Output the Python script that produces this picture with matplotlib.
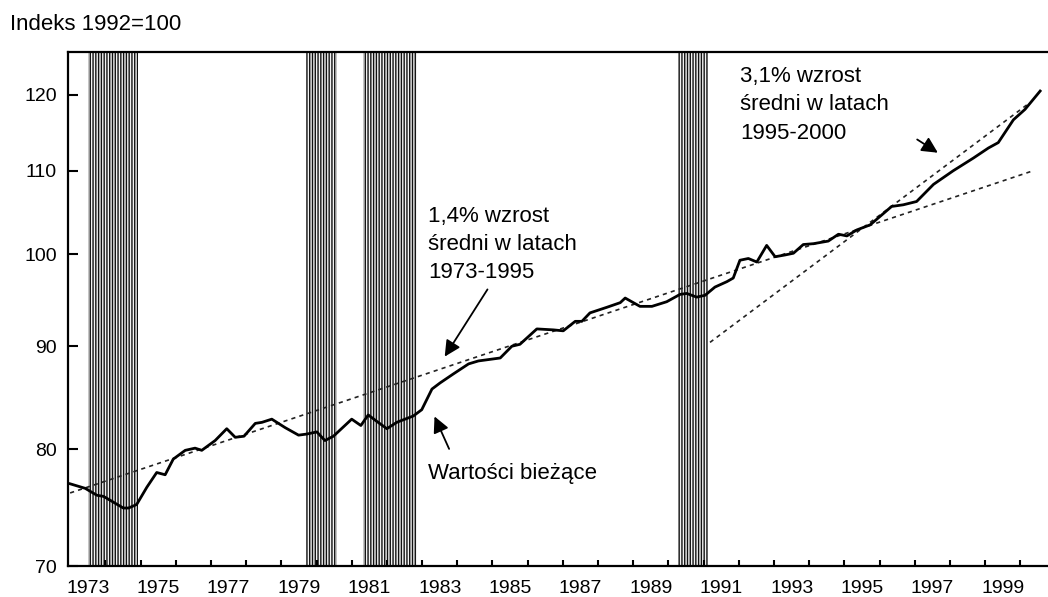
import numpy as np
import matplotlib.pyplot as plt
from matplotlib.ticker import NullLocator, FixedLocator, FixedFormatter

plt.rcParams['font.family'] = ['Liberation Sans', 'DejaVu Sans']
plt.rcParams['hatch.linewidth'] = 1.0

# ---------- data ----------
years = [1973.00, 1973.43, 1973.76, 1973.95, 1974.23, 1974.51, 1974.66, 1974.89,
         1975.18, 1975.46, 1975.70, 1975.93, 1976.27, 1976.55, 1976.74, 1977.12,
         1977.45, 1977.69, 1977.94, 1978.26, 1978.45, 1978.73, 1979.11, 1979.49,
         1979.72, 1980.01, 1980.24, 1980.48, 1981.00, 1981.26, 1981.47, 1981.71,
         1982.00, 1982.28, 1982.75, 1982.99, 1983.28, 1983.51, 1983.89, 1984.32,
         1984.60, 1985.22, 1985.55, 1985.78, 1986.26, 1986.73, 1987.01, 1987.35,
         1987.54, 1987.77, 1988.25, 1988.63, 1988.77, 1989.19, 1989.53, 1989.95,
         1990.33, 1990.52, 1990.80, 1991.04, 1991.32, 1991.66, 1991.84, 1992.03,
         1992.27, 1992.51, 1992.79, 1993.03, 1993.31, 1993.55, 1993.83, 1994.12,
         1994.54, 1994.83, 1995.07, 1995.35, 1995.73, 1996.01, 1996.34, 1996.67,
         1997.05, 1997.53, 1998.09, 1998.66, 1999.09, 1999.37, 1999.80, 2000.13,
         2000.56]
index = [76.9, 76.5, 75.9, 75.8, 75.3, 74.8, 74.8, 75.1,
         76.6, 77.9, 77.7, 79.1, 79.9, 80.1, 79.9, 80.8,
         81.9, 81.1, 81.2, 82.4, 82.5, 82.8, 82.0, 81.3,
         81.4, 81.6, 80.8, 81.2, 82.8, 82.2, 83.2, 82.6,
         81.9, 82.5, 83.1, 83.7, 85.7, 86.3, 87.2, 88.2,
         88.5, 88.8, 90.0, 90.2, 91.8, 91.7, 91.6, 92.6,
         92.6, 93.5, 94.1, 94.6, 95.1, 94.2, 94.2, 94.7,
         95.5, 95.6, 95.2, 95.4, 96.3, 96.9, 97.3, 99.3,
         99.5, 99.1, 101.0, 99.7, 99.9, 100.1, 101.1, 101.2,
         101.5, 102.3, 102.1, 102.8, 103.4, 104.4, 105.6, 105.8,
         106.2, 108.3, 110.0, 111.6, 112.9, 113.6, 116.6, 118.0,
         120.5]

# trend lines (end points)
trend_7395_years = [1973.0, 2000.36]
trend_7395_vals = [76.1, 110.0]
trend_9500_years = [1991.18, 2000.18]
trend_9500_vals = [90.4, 118.6]

# recession bands
recessions = [(1973.51, 1974.93), (1979.70, 1980.57), (1981.32, 1982.85), (1990.28, 1991.13)]

yticks = [70, 80, 90, 100, 110, 120]
label_years = list(range(1973, 2000, 2))

# ---------- plot ----------
fig = plt.figure(figsize=(10.48, 5.97), dpi=100)
ax = fig.add_axes([0.0649, 0.0519, 0.935, 0.861])

for a, b in recessions:
    ax.axvspan(a, b, facecolor='#f2f2f2', edgecolor='#111111', hatch='||||||', lw=0, zorder=1)

ax.plot(trend_7395_years, trend_7395_vals, color='#222222', lw=1.2, dashes=(2.5, 2.5), zorder=3)
ax.plot(trend_9500_years, trend_9500_vals, color='#222222', lw=1.2, dashes=(2.5, 2.5), zorder=3)
ax.plot(years, index, color='black', lw=2.0, zorder=4)

ax.set_yscale('log')
ax.set_ylim(70, 126)
ax.set_xlim(1972.94, 2000.78)

ax.yaxis.set_major_locator(FixedLocator(yticks))
ax.yaxis.set_major_formatter(FixedFormatter([str(v) for v in yticks]))
ax.yaxis.set_minor_locator(NullLocator())
ax.tick_params(axis='y', which='major', direction='in', length=7, width=1.5,
               labelsize=14, pad=8)

ax.xaxis.set_major_locator(FixedLocator(range(1974, 2001)))
ax.xaxis.set_major_formatter(FixedFormatter([]))
ax.xaxis.set_minor_locator(FixedLocator([y + 0.5 for y in label_years]))
ax.xaxis.set_minor_formatter(FixedFormatter([str(y) for y in label_years]))
ax.tick_params(axis='x', which='major', direction='in', length=4, width=1.5)
ax.tick_params(axis='x', which='minor', length=0, labelsize=14, pad=10)

for s in ['left', 'bottom', 'top']:
    ax.spines[s].set_linewidth(1.6)
ax.spines['right'].set_visible(False)

aprops = dict(arrowstyle='-|>', color='black', lw=1.3, mutation_scale=24)
ax.annotate('', xy=(1983.6, 88.7), xytext=(1984.9, 96.3), arrowprops=aprops, zorder=5)
ax.annotate('', xy=(1997.72, 112.1), xytext=(1997.0, 114.2), arrowprops=aprops, zorder=5)
ax.annotate('', xy=(1983.32, 83.3), xytext=(1983.8, 79.8), arrowprops=aprops, zorder=5)

ax.text(1983.17, 101.1, '1,4% wzrost\nśredni w latach\n1973-1995', fontsize=16,
        va='center', ha='left', linespacing=1.45, zorder=6)
ax.text(1992.03, 118.6, '3,1% wzrost\nśredni w latach\n1995-2000', fontsize=16,
        va='center', ha='left', linespacing=1.45, zorder=6)
ax.text(1983.17, 77.8, 'Wartości bieżące', fontsize=16, va='center', ha='left', zorder=6)

fig.text(10 / 1048, 1 - 24 / 597, 'Indeks 1992=100', fontsize=16, va='center', ha='left')

fig.savefig('out.png', dpi=100)
